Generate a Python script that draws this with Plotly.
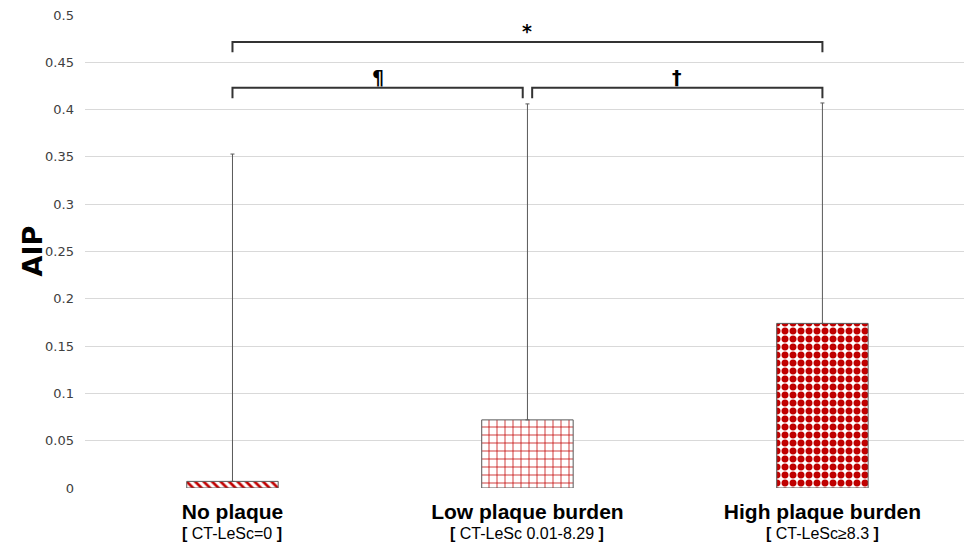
import plotly.graph_objects as go

categories = ["No plaque", "Low plaque burden", "High plaque burden"]
subtitles = ["CT-LeSc=0", "CT-LeSc 0.01-8.29", "CT-LeSc\u22658.3"]
aip_values = [0.007, 0.072, 0.174]
upper_whisker = [0.353, 0.406, 0.407]
patterns = ["\\", "+", "."]
y_ticks = [0, 0.05, 0.1, 0.15, 0.2, 0.25, 0.3, 0.35, 0.4, 0.45, 0.5]
y_tick_labels = ["0", "0.05", "0.1", "0.15", "0.2", "0.25", "0.3", "0.35", "0.4", "0.45", "0.5"]

# significance brackets: (start index, end index, level, symbol)
bracket_start = [0, 0, 1]
bracket_end = [2, 1, 2]
bracket_level = [0.4715, 0.423, 0.423]
bracket_symbol = ["*", "\u00b6", "\u2020"]

x_idx = list(range(len(categories)))
err_plus = [u - v for u, v in zip(upper_whisker, aip_values)]

fig = go.Figure()
fig.add_trace(go.Bar(
    x=x_idx, y=aip_values, width=0.31,
    marker=dict(color="white",
                line=dict(color="#595959", width=1),
                pattern=dict(shape=patterns, fgcolor="#c00000", bgcolor="white", fgopacity=1,
                             size=[6, 8, 8], solidity=[0.45, 0.18, 0.6], fillmode="overlay")),
    error_y=dict(type="data", symmetric=False, array=err_plus,
                 arrayminus=[0] * len(aip_values), color="#595959", thickness=1, width=2),
    showlegend=False,
))

ticktext = [f"<b>{c}</b>" for c in categories]

for i, s in zip(x_idx, subtitles):
    fig.add_annotation(x=i, y=0, xref="x", yref="y", yshift=-45, yanchor="middle",
                       text=f"<b>[</b> {s} <b>]</b>", showarrow=False,
                       font=dict(family="Liberation Sans", size=16, color="black"))

drop = 0.011
for s, e, lvl, sym in zip(bracket_start, bracket_end, bracket_level, bracket_symbol):
    xs = s + (0.016 if (s == 1 and e == 2) else 0)
    xe = e - (0.016 if (s == 0 and e == 1) else 0)
    fig.add_shape(type="path", xref="x", yref="y",
                  path=f"M {xs} {lvl - drop} L {xs} {lvl} L {xe} {lvl} L {xe} {lvl - drop}",
                  line=dict(color="#333333", width=2))
    fig.add_annotation(x=(xs + xe) / 2, y=lvl, text=f"<b>{sym}</b>", showarrow=False,
                       yanchor="bottom", yshift=-2,
                       font=dict(family="DejaVu Sans", size=19, color="black"))

fig.add_annotation(xref="paper", yref="paper", x=0, y=0.5, xshift=-53, text="<b>AIP</b>",
                   textangle=-90, showarrow=False, xanchor="center", yanchor="middle",
                   font=dict(family="DejaVu Sans", size=27, color="black"))

fig.update_layout(
    width=964, height=545,
    margin=dict(l=85, r=0, t=15, b=57),
    plot_bgcolor="white", paper_bgcolor="white",
    font=dict(family="DejaVu Sans", color="#404040"),
    xaxis=dict(range=[-0.5, 2.48], tickvals=x_idx, ticktext=ticktext, showgrid=False,
               zeroline=False, showline=False, ticks="", ticklabelstandoff=9,
               tickfont=dict(family="Liberation Sans", size=21, color="black")),
    yaxis=dict(range=[0, 0.5], tickvals=y_ticks, ticktext=y_tick_labels,
               showgrid=True, gridcolor="#d9d9d9", gridwidth=1, zeroline=False,
               showline=False, ticks="", ticklabelstandoff=10,
               tickfont=dict(family="DejaVu Sans", size=13, color="#404040")),
    bargap=0.2,
)

fig.write_html("out.html")
